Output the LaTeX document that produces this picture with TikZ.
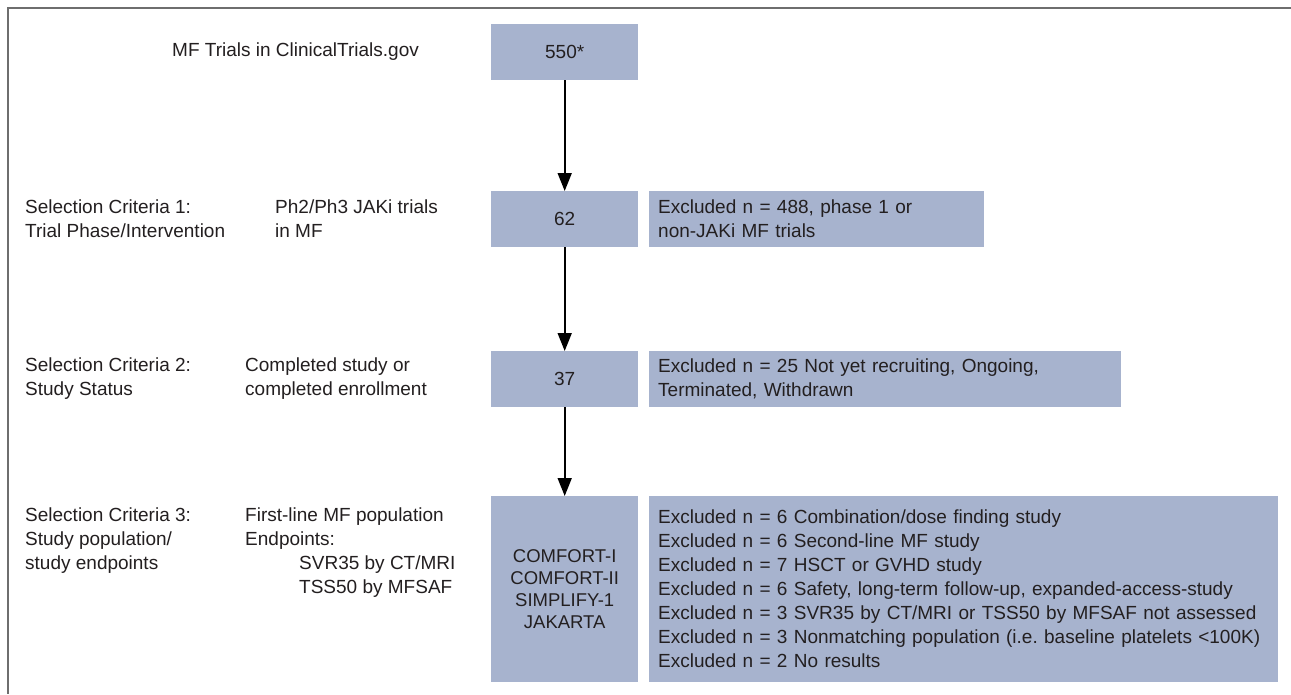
\documentclass[tikz,border=0pt]{standalone}
\usepackage{fontspec}
\setmainfont{Liberation Sans}
\usetikzlibrary{arrows.meta}
\definecolor{boxfill}{RGB}{167,179,206}
\definecolor{txt}{RGB}{35,31,32}
\definecolor{framecol}{RGB}{110,110,110}
\frenchspacing
\begin{document}
\begin{tikzpicture}[x=1pt,y=-1pt,
  every node/.style={text=txt, font=\fontsize{19}{24}\selectfont, inner sep=0pt},
  flowbox/.style={fill=boxfill, anchor=north west, align=center, minimum width=147pt},
  exbox/.style={fill=boxfill, anchor=north west, align=left, inner xsep=9pt},
  lbl/.style={anchor=west, align=left},
  flowarrow/.style={draw=black, line width=1.7pt, -{Triangle[width=14pt,length=18pt]}}
]
\useasboundingbox (0,0) rectangle (1291,694);
\fill[white] (0,0) rectangle (1291,694);
\draw[framecol, line width=2pt] (1291,7.5) -- (8,7.5) -- (8,694);

% flow boxes
\node[flowbox, minimum height=56pt] (n550) at (491,24) {550*};
\node[flowbox, minimum height=56pt] (n62) at (491,191) {62};
\node[flowbox, minimum height=56pt] (n37) at (491,351) {37};
\node[flowbox, minimum height=186pt, font=\fontsize{18.5}{22}\selectfont] (nfin) at (491,496) {COMFORT-I\\COMFORT-II\\SIMPLIFY-1\\JAKARTA};

% exclusion boxes
\node[exbox, minimum height=56pt, text width=317pt] (ex1) at (649,191) {Excluded n = 488, phase 1 or\\non-JAKi MF trials};
\node[exbox, minimum height=56pt, text width=454pt] (ex2) at (649,351) {Excluded n = 25 Not yet recruiting, Ongoing,\\Terminated, Withdrawn};
\node[exbox, minimum height=186pt, text width=611pt] (ex3) at (649,496) {Excluded n = 6 Combination/dose finding study\\
Excluded n = 6 Second-line MF study\\
Excluded n = 7 HSCT or GVHD study\\
Excluded n = 6 Safety, long-term follow-up, expanded-access-study\\
Excluded n = 3 SVR35 by CT/MRI or TSS50 by MFSAF not assessed\\
Excluded n = 3 Nonmatching population (i.e. baseline platelets <100K)\\
Excluded n = 2 No results};

% labels
\node[lbl] (t0) at (172,52) {MF Trials in ClinicalTrials.gov};
\node[lbl] (c1) at (25,219) {Selection Criteria 1:\\Trial Phase/Intervention};
\node[lbl] (d1) at (275,219) {Ph2/Ph3 JAKi trials\\in MF};
\node[lbl] (c2) at (25,379) {Selection Criteria 2:\\Study Status};
\node[lbl] (d2) at (245,379) {Completed study or\\completed enrollment};
\node[lbl] (c3) at (25,541) {Selection Criteria 3:\\Study population/\\study endpoints};
\node[lbl] (d3) at (245,553) {First-line MF population\\Endpoints:\\\hspace*{54pt}SVR35 by CT/MRI\\\hspace*{54pt}TSS50 by MFSAF};

% arrows
\draw[flowarrow] (n550) -- (n62);
\draw[flowarrow] (n62) -- (n37);
\draw[flowarrow] (n37) -- (nfin);
\end{tikzpicture}
\end{document}
